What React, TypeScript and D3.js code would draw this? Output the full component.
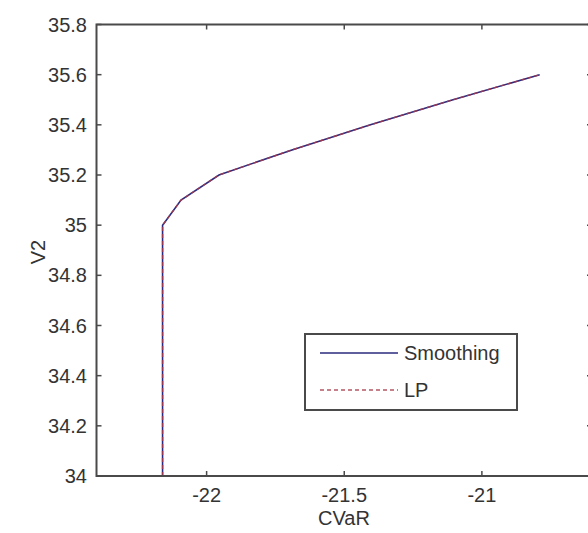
import React from "react";
import * as d3 from "d3";

// Efficient frontier: V2 against CVaR, two solution methods
const v2Levels = [34.0, 35.0, 35.1, 35.2, 35.3, 35.4, 35.5, 35.6];
const cvarSmoothing = [-22.16, -22.16, -22.093, -21.955, -21.69, -21.405, -21.105, -20.79];
const cvarLP = [-22.16, -22.16, -22.093, -21.955, -21.69, -21.405, -21.105, -20.79];

const xTicks = [-22, -21.5, -21];
const yTicks = [34, 34.2, 34.4, 34.6, 34.8, 35, 35.2, 35.4, 35.6, 35.8];

const seriesNames = ["Smoothing", "LP"];

const W = 588;
const H = 533;
const left = 96.5;
const right = 592;
const top = 24.5;
const bottom = 476;

const font = "'Liberation Sans', Arial, sans-serif";
const axisColor = "#4a4a4a";
const textColor = "#333";
const smoothColor = "#2a2a7e";
const lpColor = "#a83a4a";
const fs = 20;

export default function App() {
  const x = d3.scaleLinear().domain([-22.4, -20.6]).range([left, right]);
  const y = d3.scaleLinear().domain([34, 35.8]).range([bottom, top]);

  const line = d3
    .line<[number, number]>()
    .x((d) => x(d[0]))
    .y((d) => y(d[1]));

  const smoothPts = v2Levels.map((v, i) => [cvarSmoothing[i], v] as [number, number]);
  const lpPts = v2Levels.map((v, i) => [cvarLP[i], v] as [number, number]);

  const fmt = (v: number) => String(+v.toFixed(2));
  const tickLen = 5;

  return (
    <svg
      width={W}
      height={H}
      style={{ position: "absolute", left: 0, top: 0, background: "#fff" }}
      fontFamily={font}
    >
      <rect x={0} y={0} width={W} height={H} fill="#fff" />

      {/* data */}
      <path d={line(smoothPts) || ""} fill="none" stroke={smoothColor} strokeWidth={1.6} />
      <path
        d={line(lpPts) || ""}
        fill="none"
        stroke={lpColor}
        strokeWidth={1.4}
        strokeDasharray="4,3"
        opacity={0.85}
      />

      {/* axes box */}
      <rect
        x={left}
        y={top}
        width={right - left}
        height={bottom - top}
        fill="none"
        stroke={axisColor}
        strokeWidth={2}
      />

      {/* x ticks */}
      {xTicks.map((t) => (
        <g key={"x" + t}>
          <line x1={x(t)} x2={x(t)} y1={bottom} y2={bottom - tickLen} stroke={axisColor} strokeWidth={1.5} />
          <line x1={x(t)} x2={x(t)} y1={top} y2={top + tickLen} stroke={axisColor} strokeWidth={1.5} />
          <text x={x(t)} y={502} textAnchor="middle" fontSize={fs} fill={textColor}>
            {fmt(t)}
          </text>
        </g>
      ))}

      {/* y ticks */}
      {yTicks.map((t) => (
        <g key={"y" + t}>
          <line x1={left} x2={left + tickLen} y1={y(t)} y2={y(t)} stroke={axisColor} strokeWidth={1.5} />
          <line x1={right} x2={right - tickLen} y1={y(t)} y2={y(t)} stroke={axisColor} strokeWidth={1.5} />
          <text x={87} y={y(t)} dy="0.35em" textAnchor="end" fontSize={fs} fill={textColor}>
            {fmt(t)}
          </text>
        </g>
      ))}

      {/* axis titles */}
      <text x={344} y={525} textAnchor="middle" fontSize={fs} fill={textColor}>
        CVaR
      </text>
      <text
        transform={`translate(45, 252) rotate(-90)`}
        textAnchor="middle"
        fontSize={fs}
        fill={textColor}
      >
        V2
      </text>

      {/* legend */}
      <g>
        <rect x={305} y={334} width={212} height={76} fill="#fff" stroke={axisColor} strokeWidth={2} />
        <line x1={320} x2={398} y1={353} y2={353} stroke={smoothColor} strokeWidth={1.6} />
        <text x={404} y={353} dy="0.35em" fontSize={fs} fill={textColor}>
          {seriesNames[0]}
        </text>
        <line
          x1={320}
          x2={398}
          y1={390}
          y2={390}
          stroke={lpColor}
          strokeWidth={1.4}
          strokeDasharray="4,3"
          opacity={0.85}
        />
        <text x={404} y={390} dy="0.35em" fontSize={fs} fill={textColor}>
          {seriesNames[1]}
        </text>
      </g>
    </svg>
  );
}
